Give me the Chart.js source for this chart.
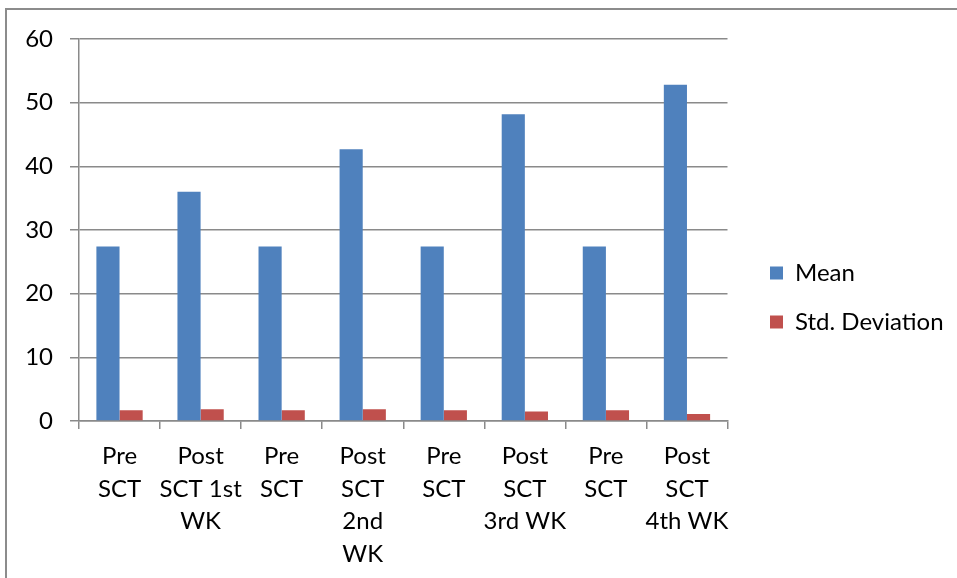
<!DOCTYPE html>
<html>
<head>
<meta charset="utf-8">
<script src="https://cdn.jsdelivr.net/npm/chart.js@4/dist/chart.umd.min.js"></script>
<style>
  html, body { margin: 0; padding: 0; background: #fff; overflow: hidden; }
  #wrap { position: relative; width: 957px; height: 578px; overflow: hidden; }
  #frame { position: absolute; left: 5px; top: 8px; width: 1100px; height: 700px;
           border-top: 2px solid #8c8c8c; border-left: 2px solid #8c8c8c; }
  #c { position: absolute; left: 0; top: 0; }
</style>
</head>
<body>
<div id="wrap">
  <div id="frame"></div>
  <canvas id="c" width="957" height="578"></canvas>
</div>
<script>
// Session labels (already split into the lines they wrap to)
const categories = [
  ["Pre", "SCT"],
  ["Post", "SCT 1st", "WK"],
  ["Pre", "SCT"],
  ["Post", "SCT", "2nd", "WK"],
  ["Pre", "SCT"],
  ["Post", "SCT", "3rd WK"],
  ["Pre", "SCT"],
  ["Post", "SCT", "4th WK"]
];
const meanValues = [27.4, 36.0, 27.4, 42.7, 27.4, 48.2, 27.4, 52.8];
const stdValues  = [1.7, 1.85, 1.7, 1.85, 1.7, 1.5, 1.7, 1.1];
const seriesNames = ["Mean", "Std. Deviation"];
const yMin = 0, yMax = 60, yStep = 10;

const GRID = '#8a8a8a';
const FONT = { family: 'Lato, "Open Sans", sans-serif', size: 24 };

// Places the legend column beside the plot
const legendPlacement = {
  id: 'legendPlacement',
  afterLayout(chart) {
    const lg = chart.legend;
    if (!lg || !lg.columnSizes || !lg.columnSizes.length) return;
    const pad = lg.options.labels.padding;
    const dx = 770 - (lg.left + pad);
    lg.left += dx; lg.right += dx;
    const colH = lg.columnSizes[0].height;
    const startY = (lg.top + pad + lg.bottom - colH) / 2;
    const dy = 261 - startY;
    lg.top += dy; lg.bottom += dy;
  }
};

new Chart(document.getElementById('c'), {
  type: 'bar',
  data: {
    labels: categories,
    datasets: [
      { label: seriesNames[0], data: meanValues, backgroundColor: '#4F81BD' },
      { label: seriesNames[1], data: stdValues, backgroundColor: '#C0504D' }
    ]
  },
  options: {
    responsive: false,
    animation: false,
    devicePixelRatio: 1,
    categoryPercentage: 0.571,
    barPercentage: 1.0,
    layout: { padding: { left: 0, top: 39, right: 29.5, bottom: 0 } },
    plugins: {
      tooltip: { enabled: false },
      legend: {
        position: 'right',
        maxWidth: 200,
        labels: {
          font: FONT,
          color: '#000',
          boxWidth: 13,
          boxHeight: 13,
          padding: 25
        }
      }
    },
    scales: {
      x: {
        offset: true,
        grid: { drawOnChartArea: false, drawTicks: true, tickLength: 8, color: GRID, lineWidth: 1.5 },
        border: { color: GRID, width: 1.5 },
        ticks: { font: { ...FONT, lineHeight: 1.354 }, color: '#000', padding: 11.5, maxRotation: 0, autoSkip: false },
        afterFit(scale) { scale.height = 157; }
      },
      y: {
        min: yMin, max: yMax,
        grid: { color: GRID, lineWidth: 1.5, drawTicks: true, tickLength: 9 },
        border: { color: GRID, width: 1.5 },
        ticks: { stepSize: yStep, font: FONT, color: '#000', padding: 17 },
        afterFit(scale) { scale.width = 79; }
      }
    }
  },
  plugins: [legendPlacement]
});
</script>
</body>
</html>
